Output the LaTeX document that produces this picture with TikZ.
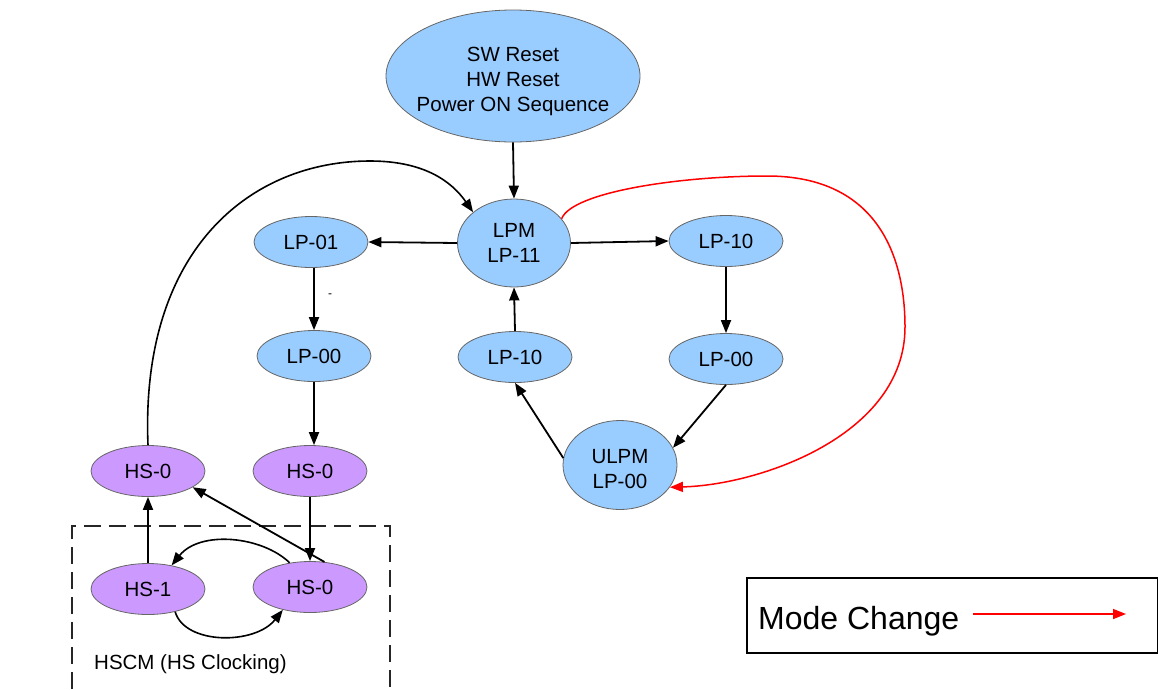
\documentclass[tikz,border=0pt]{standalone}
\usepackage{fontspec}
\setmainfont{Liberation Sans}
\usetikzlibrary{shapes.geometric,arrows.meta}
\definecolor{lpblue}{RGB}{153,204,255}
\definecolor{hspurple}{RGB}{204,153,255}
\definecolor{modered}{RGB}{255,0,0}
\begin{document}
\begin{tikzpicture}[x=1pt,y=-1pt,
  st/.style={ellipse, draw=black!60, line width=0.8pt, fill=lpblue, inner sep=0pt, align=center,
             font=\fontsize{20.5}{25}\selectfont, minimum width=114pt, minimum height=51pt},
  hs/.style={st, fill=hspurple},
  conn/.style={line width=1.8pt, -{Triangle[length=13pt,width=10pt]}},
  curv/.style={line width=1.6pt, -{Triangle[length=13pt,width=10pt]}},
  modeconn/.style={draw=modered, line width=1.5pt, -{Triangle[length=13pt,width=10pt]}},
  ]
\useasboundingbox (0,0) rectangle (1158,689);

% nodes
\node[st, minimum width=254pt, minimum height=132pt] (reset) at (513,76) {};
\node[align=center, font=\fontsize{20.5}{25}\selectfont, inner sep=0pt] (resettext) at (513,81) {SW Reset\\HW Reset\\Power ON Sequence};
\node[st, minimum width=113pt, minimum height=88pt] (lpm) at (514,243) {LPM\\LP-11};
\node[st] (lp01) at (311,242) {LP-01};
\node[st] (lp10r) at (726,241) {LP-10};
\node[st] (lp00r) at (726,359) {LP-00};
\node[st] (lp00l) at (314,356) {LP-00};
\node[st] (lp10m) at (515,357) {LP-10};
\node[st, minimum width=114pt, minimum height=89pt] (ulpm) at (620,465) {};
\node[align=center, font=\fontsize{20.5}{25}\selectfont, inner sep=0pt] (ulpmtext) at (620,469) {ULPM\\LP-00};
\node[hs] (hs0a) at (148,471) {HS-0};
\node[hs] (hs0b) at (310,471) {HS-0};
\node[hs] (hs1) at (148,589) {HS-1};
\node[hs] (hs0c) at (310,587) {HS-0};

% HSCM dashed box (bottom side lies below the picture)
\coordinate (boxbl) at (72,689);
\coordinate (boxtl) at (72,526);
\coordinate (boxtr) at (390,526);
\coordinate (boxbr) at (390,689);
\draw[line width=1.1pt, dash pattern=on 17pt off 8pt, black!85] (boxbl) -- (boxtl) -- (boxtr) -- (boxbr);
\node[anchor=west, font=\fontsize{20.5}{25}\selectfont, inner sep=0pt] (hscm) at (94,664) {HSCM (HS Clocking)};

% small dash mark
\node[font=\fontsize{12}{14}\selectfont, inner sep=0pt] (dashmark) at (330,296) {-};

% straight connectors
\draw[conn] (reset.south) -- (lpm.north);
\draw[conn] (lpm.west) -- (lp01.east);
\draw[conn] (lpm.east) -- (lp10r.west);
\draw[conn] (lp10r.south) -- (lp00r.north);
\draw[conn] (lp00r.south) -- (ulpm.18);
\draw[conn] (ulpm.173) -- (lp10m.south);
\draw[conn] (lp10m.north) -- (lpm.south);
\draw[conn] (lp00l.north |- lp01.south) -- (lp00l.north);
\draw[conn] (lp00l.south) -- (lp00l.south |- hs0b.north);
\draw[conn] (hs0b.south) -- (hs0c.north);
\draw[conn] (hs0c.60) -- (hs0a.-20);
\draw[conn] (hs1.north) -- (hs0a.south);

% HS clocking arcs
\draw[curv] (hs0c.130) .. controls (262,536) and (200,530) .. (hs1.45);
\draw[curv] (hs1.-40) .. controls (185,645) and (255,645) .. (hs0c.-140);

% long curve HS-0 -> LPM
\draw[curv] (hs0a.north) .. controls (140,250) and (250,161) .. (370,161)
  .. controls (425,161) and (452,182) .. (lpm.143);

% red mode change curve LPM -> ULPM
\draw[modeconn] (lpm.27) .. controls (572,192) and (680,176) .. (767,176)
  .. controls (880,176) and (905,260) .. (905,327)
  .. controls (905,435) and (760,485) .. (ulpm.-24);

% legend
\node[draw=black, line width=1.5pt, anchor=north west, minimum width=411pt, minimum height=75pt, inner sep=0pt] (legend) at (746,577) {};
\node[anchor=west, font=\fontsize{32}{38}\selectfont, inner sep=0pt] (legtext) at (758,621) {Mode Change};
\coordinate (legA) at (973,614);
\coordinate (legB) at (1126,614);
\draw[modeconn] (legA) -- (legB);
\end{tikzpicture}
\end{document}
